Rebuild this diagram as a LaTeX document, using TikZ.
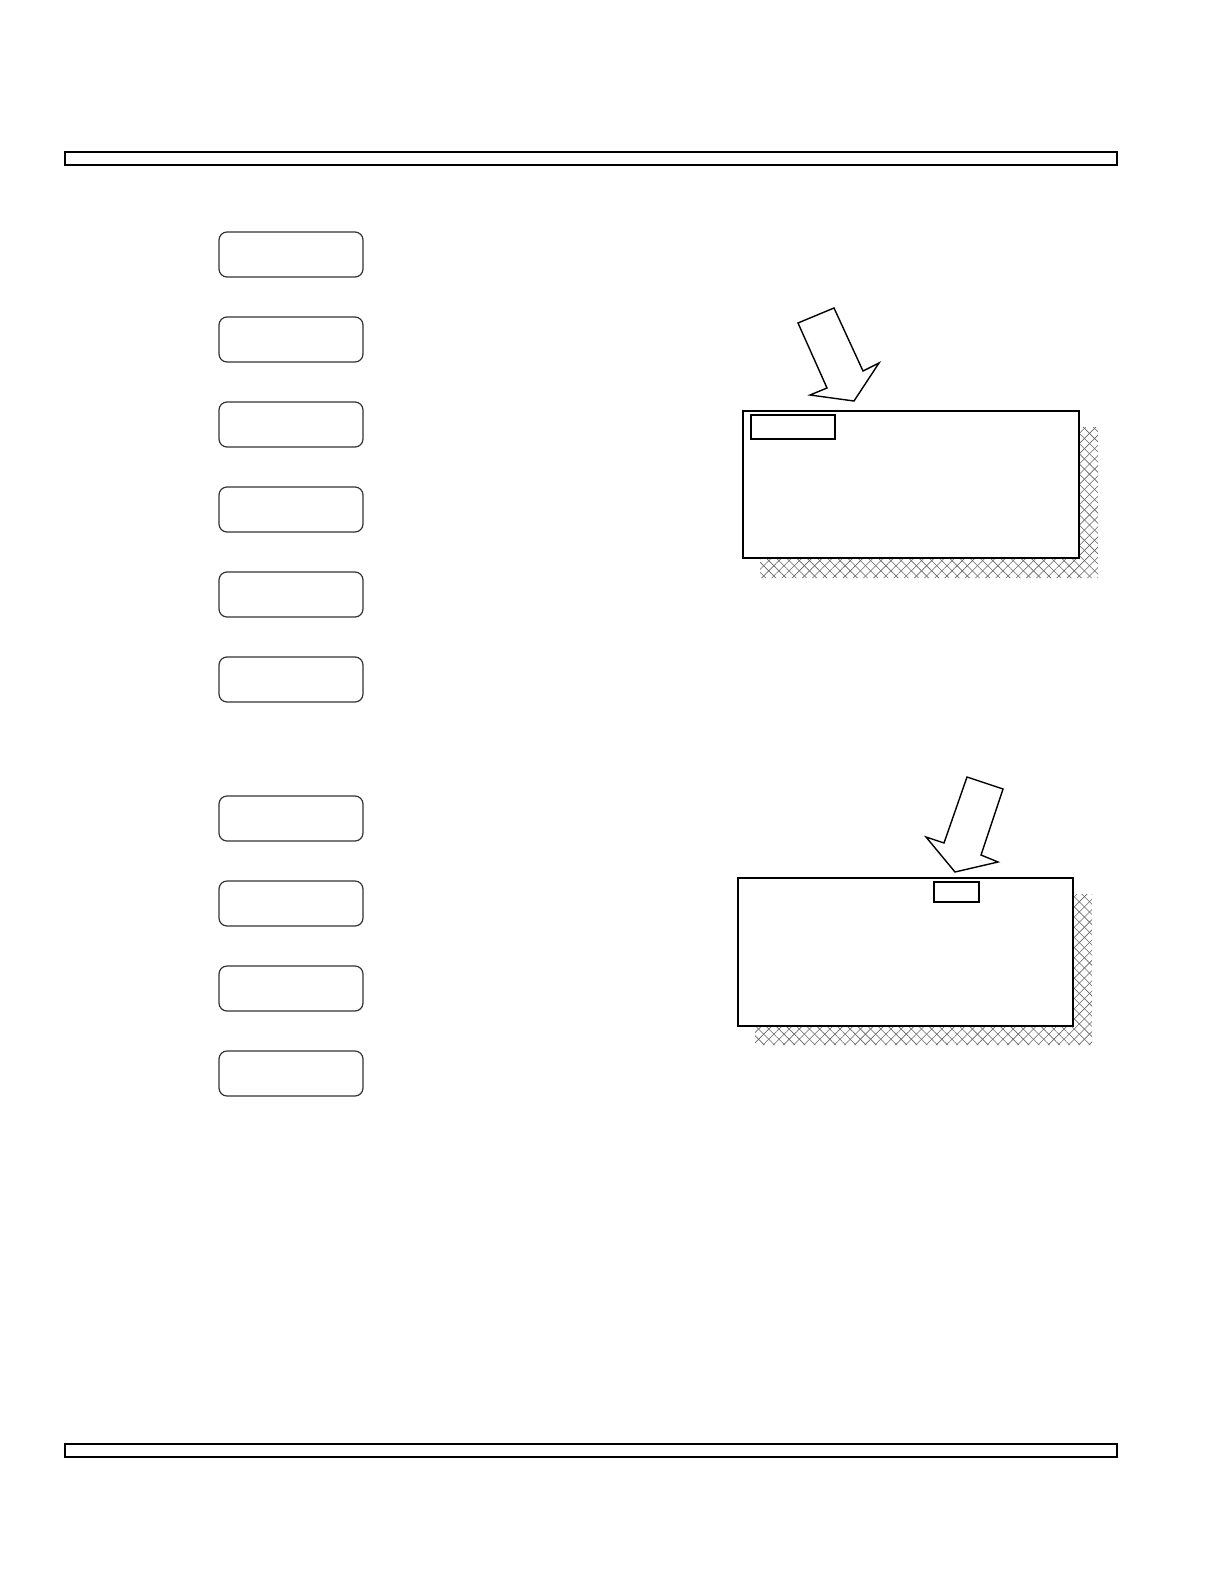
\documentclass[tikz,border=0pt]{standalone}
\usepackage{tikz}
\usetikzlibrary{calc,patterns.meta}

\tikzset{
  keybox/.style={draw=black!80,line width=0.6pt,rounded corners=4pt,minimum width=72pt,minimum height=22.5pt,inner sep=0pt},
  panel/.style={draw,line width=1pt,inner sep=0pt,fill=white},
  tag/.style={draw,line width=0.8pt,inner sep=0pt},
  bigarrow/.style={draw,line width=0.7pt,line join=miter,fill=white},
  hatch/.style={pattern={Lines[angle=45,distance=3.6pt,line width=0.3pt]},pattern color=black!60},
  hatchb/.style={pattern={Lines[angle=-45,distance=3.6pt,line width=0.3pt]},pattern color=black!60}
}

\begin{document}
\begin{tikzpicture}[x=0.5pt,y=-0.5pt]
    \useasboundingbox (0,0) rectangle (1224,1584);
    % page rules
    \draw[line width=1.3pt] (65,152) rectangle (1117,165);
    \draw[line width=1.3pt] (65,1444) rectangle (1117,1457);
    % key boxes
    \foreach \i/\y in {1/254.5,2/339.5,3/424.5,4/509.5,5/594.5,6/679.5,7/818.5,8/903.5,9/988.5,10/1073.5}
        \node[keybox] (k\i) at (291,\y) {};
    % upper panel
    \node[panel,minimum width=168pt,minimum height=73.5pt] (up) at (911,484.5) {};
    \foreach \s in {hatch,hatchb}
        \path[\s] ([shift={(0,17)}]up.north east)--([shift={(18,17)}]up.north east)
            --([shift={(18,19)}]up.south east)--([shift={(18,19)}]up.south west)
            --([shift={(18,0)}]up.south west)--(up.south east)--cycle;
    \node[tag,minimum width=42pt,minimum height=12pt] (uptag) at (793,427) {};
    \coordinate (A) at (854,401);
    \draw[bigarrow] (A)--(810,395)--(827,388)--(798,323)--(834,308)--(863,371)--(879,363)--cycle;
    % lower panel
    \node[panel,minimum width=167.5pt,minimum height=74pt] (lo) at (905.5,952) {};
    \foreach \s in {hatch,hatchb}
        \path[\s] ([shift={(0,17)}]lo.north east)--([shift={(18,17)}]lo.north east)
            --([shift={(18,18)}]lo.south east)--([shift={(18,18)}]lo.south west)
            --([shift={(18,0)}]lo.south west)--(lo.south east)--cycle;
    \node[tag,minimum width=22.5pt,minimum height=10pt] (lotag) at (956.5,892) {};
    \coordinate (B) at (955,872);
    \draw[bigarrow] (B)--(926,837)--(944,843)--(967,777)--(1003,789)--(981,855)--(998,862)--cycle;
\end{tikzpicture}
\end{document}
